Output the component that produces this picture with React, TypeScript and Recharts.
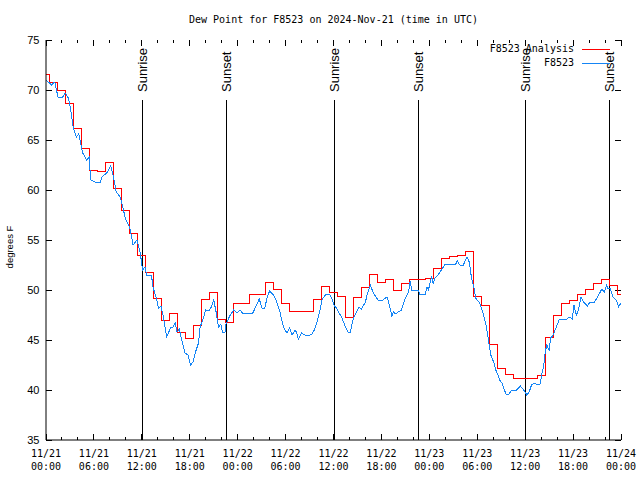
import { LineChart, Line, XAxis, YAxis, ReferenceLine, Legend } from "recharts"

// F8523 Analysis: hourly values, hours 0..72 from 11/21 00:00 UTC
const analysisValues = [
  71.6, 70.8, 70.0, 68.7, 66.2, 64.2, 62.0, 61.9, 62.8, 60.2, 58.0, 55.7,
  53.5, 51.8, 49.2, 47.0, 47.7, 45.8, 45.2, 46.5, 49.1, 49.8, 47.1, 46.8,
  48.7, 48.7, 49.6, 49.6, 50.8, 50.1, 48.7, 47.9, 47.9, 47.9, 49.1, 50.4,
  49.8, 49.4, 47.3, 49.3, 50.3, 51.6, 50.8, 51.1, 50.0, 50.7, 51.1, 51.1,
  51.2, 52.2, 53.2, 53.4, 53.5, 53.9, 49.4, 48.5, 44.6, 42.2, 41.6, 41.2,
  41.2, 41.2, 41.5, 45.3, 47.5, 48.7, 49.0, 49.6, 50.1, 50.7, 51.1, 50.5,
  49.6,
]

// F8523 station readings: [hours since 11/21 00:00, degrees F]
const stationReadings = [
  [0, 71.0], [0.7, 70.5], [1.1, 70.8], [1.5, 69.3], [2.1, 69.3], [2.4, 69.7],
  [2.8, 69.2], [3.1, 68.0], [3.4, 66.3], [3.8, 65.3], [4.1, 65.6], [4.6, 63.7],
  [5.1, 63.0], [5.4, 63.3], [5.6, 61.0], [6.1, 60.8], [6.8, 60.8], [7.0, 61.3],
  [7.6, 61.7], [8.1, 62.4], [8.4, 61.5], [8.8, 59.8], [9.3, 59.3], [9.6, 58.3],
  [10.0, 57.0], [10.5, 56.2], [10.9, 54.5], [11.4, 55.0], [11.8, 53.7], [12.1, 52.0],
  [12.4, 52.3], [12.6, 51.5], [13.2, 51.5], [13.4, 50.3], [13.8, 49.2], [14.1, 48.2],
  [14.4, 48.4], [14.7, 47.3], [15.1, 45.3], [15.6, 46.2], [15.9, 46.3], [16.2, 46.7],
  [16.4, 45.8], [16.7, 46.1], [17.0, 45.0], [17.4, 43.7], [17.8, 43.5], [18.1, 42.5],
  [18.4, 42.8], [18.8, 44.0], [19.1, 44.7], [19.3, 46.3], [19.7, 47.2], [20.0, 48.0],
  [20.4, 47.9], [20.7, 48.3], [21.0, 49.0], [21.3, 47.8], [21.6, 46.3], [21.9, 46.6],
  [22.1, 45.8], [22.4, 45.7], [22.5, 46.5], [23.0, 47.4], [23.5, 48.0], [23.9, 47.7],
  [24.3, 48.0], [24.6, 47.7], [25.9, 47.7], [26.3, 48.4], [26.7, 49.1], [27.1, 48.1],
  [27.4, 48.2], [27.7, 49.3], [28.0, 49.9], [28.5, 49.5], [28.9, 48.8], [29.3, 47.8],
  [29.6, 46.7], [29.9, 46.0], [30.2, 45.7], [30.5, 46.2], [30.8, 45.5], [31.2, 46.0],
  [31.4, 45.7], [31.6, 45.1], [32.0, 45.7], [32.4, 45.5], [32.8, 45.4], [33.3, 45.6],
  [33.6, 46.0], [34.0, 47.0], [34.3, 48.0], [34.6, 49.1], [35.1, 49.6], [35.5, 49.6],
  [35.8, 49.1], [36.1, 48.4], [36.4, 48.2], [36.7, 47.7], [37.0, 47.3], [37.4, 46.5],
  [37.8, 45.8], [38.1, 45.8], [38.3, 46.5], [38.5, 47.2], [38.9, 47.8], [39.2, 48.3],
  [39.5, 48.1], [40.0, 48.8], [40.2, 49.5], [40.6, 50.5], [40.8, 50.1], [41.0, 49.7],
  [41.4, 49.2], [41.6, 49.0], [42.2, 49.0], [42.7, 49.3], [43.0, 48.5], [43.3, 47.4],
  [43.5, 47.8], [43.8, 47.6], [44.1, 47.8], [44.5, 48.0], [45.0, 49.2], [45.4, 49.8],
  [45.6, 50.9], [45.8, 50.0], [46.6, 50.0], [46.8, 49.6], [47.5, 49.6], [47.7, 50.3],
  [47.9, 50.0], [48.1, 50.8], [48.3, 51.3], [48.5, 50.6], [48.7, 51.2], [49.1, 51.5],
  [49.5, 52.0], [50.0, 52.6], [51.3, 52.6], [51.5, 52.9], [51.8, 52.5], [52.2, 52.4],
  [52.7, 53.3], [53.0, 52.8], [53.3, 51.1], [53.6, 50.2], [53.8, 49.2], [54.3, 48.7],
  [54.8, 47.5], [55.1, 46.5], [55.4, 45.0], [55.7, 43.5], [56.1, 42.7], [56.4, 41.8],
  [56.6, 41.5], [56.8, 41.0], [57.1, 40.7], [57.3, 40.2], [57.6, 39.6], [58.0, 39.6],
  [58.3, 40.0], [58.9, 40.0], [59.4, 40.4], [59.6, 40.2], [60.0, 39.8], [60.2, 39.5],
  [60.5, 39.8], [60.8, 40.5], [61.2, 40.7], [61.6, 40.5], [61.9, 40.6], [62.1, 41.7],
  [62.3, 42.3], [62.5, 43.7], [62.7, 44.5], [63.0, 44.0], [63.2, 45.2], [63.5, 45.5],
  [63.9, 46.3], [64.3, 47.1], [65.2, 47.1], [65.6, 47.3], [65.9, 47.1], [66.1, 48.5],
  [66.4, 47.5], [66.6, 47.8], [67.0, 49.3], [67.3, 48.8], [67.8, 48.4], [68.1, 48.8],
  [68.7, 48.8], [69.2, 49.5], [69.6, 50.1], [69.9, 49.8], [70.2, 50.5], [70.4, 50.1],
  [70.6, 50.2], [71.0, 49.3], [71.4, 49.0], [71.7, 48.3], [72.0, 48.7],
]

const seriesNames = ["F8523 Analysis", "F8523"]
const seriesColors = ["#ff0000", "#1585f5"]

const majorTicks = [0, 6, 12, 18, 24, 30, 36, 42, 48, 54, 60, 66, 72]
const minorTicks = [2, 4, 8, 10, 14, 16, 20, 22, 26, 28, 32, 34, 38, 40, 44, 46, 50, 52, 56, 58, 62, 64, 68, 70]
const yTicks = [35, 40, 45, 50, 55, 60, 65, 70, 75]

const sunTimes = [12.05, 22.6, 36.07, 46.6, 60.1, 70.55]
const sunNames = ["Sunrise", "Sunset", "Sunrise", "Sunset", "Sunrise", "Sunset"]

const X_MIN = 0
const X_MAX = 72
const Y_MIN = 35
const Y_MAX = 75
// gnuplot-style inward tick lengths, in axis units (6px major, 3px minor)
const X_TICK = 0.6
const X_MINOR = 0.3
const Y_TICK = 0.75

const analysisData = analysisValues.map((v, i) => ({ h: i, v }))
const stationData = stationReadings.map(([h, v]) => ({ h, v }))

const MONO = "'DejaVu Sans Mono', monospace"
const SANS = "'Liberation Sans', Arial, sans-serif"

function TimeTick({ x, y, payload }: any) {
  const h = payload.value
  const day = 21 + Math.floor(h / 24)
  const hh = String(h % 24).padStart(2, "0")
  return (
    <text x={x} y={y} textAnchor="middle" fontFamily={MONO} fontSize={10} fill="#000">
      <tspan x={x} dy={0}>11/{day}</tspan>
      <tspan x={x} dy={13}>{hh}:00</tspan>
    </text>
  )
}

const sunLabel = (text: string) => (props: any) => {
  const vb = props.viewBox || {}
  const x = vb.x + 4.5
  const y = vb.y - 8
  return (
    <text
      x={x}
      y={y}
      transform={`rotate(-90 ${x} ${y})`}
      fontFamily={SANS}
      fontSize={13}
      fill="#000"
      textAnchor="start"
    >
      {text}
    </text>
  )
}

function LegendBox() {
  return (
    <div style={{ fontFamily: MONO, fontSize: 10, lineHeight: "14px", color: "#000" }}>
      {seriesNames.map((name, i) => (
        <div
          key={name}
          style={{ display: "flex", justifyContent: "flex-end", alignItems: "center", height: 14 }}
        >
          <span>{name}</span>
          <div style={{ width: 28, height: 0, marginLeft: 8, marginRight: 2, borderTop: `1px solid ${seriesColors[i]}` }} />
        </div>
      ))}
    </div>
  )
}

const tickSeg = (key: string, a: { x: number; y: number }, b: { x: number; y: number }) => (
  <ReferenceLine key={key} segment={[a, b]} stroke="#000" strokeWidth={1} shapeRendering="crispEdges" />
)

const axisTicks = [
  ...majorTicks.flatMap((t) => [
    tickSeg(`xb${t}`, { x: t, y: Y_MIN }, { x: t, y: Y_MIN + X_TICK }),
    tickSeg(`xt${t}`, { x: t, y: Y_MAX }, { x: t, y: Y_MAX - X_TICK }),
  ]),
  ...minorTicks.flatMap((t) => [
    tickSeg(`mb${t}`, { x: t, y: Y_MIN }, { x: t, y: Y_MIN + X_MINOR }),
    tickSeg(`mt${t}`, { x: t, y: Y_MAX }, { x: t, y: Y_MAX - X_MINOR }),
  ]),
  ...yTicks.flatMap((v) => [
    tickSeg(`yl${v}`, { x: X_MIN, y: v }, { x: X_MIN + Y_TICK, y: v }),
    tickSeg(`yr${v}`, { x: X_MAX, y: v }, { x: X_MAX - Y_TICK, y: v }),
  ]),
]

export default function App() {
  return (
    <div style={{ position: "absolute", left: 0, top: 0, width: 640, height: 480, background: "#fff" }}>
      <div
        style={{
          position: "absolute",
          left: 46,
          width: 575,
          top: 15,
          textAlign: "center",
          fontFamily: MONO,
          fontSize: 10,
          lineHeight: "10px",
        }}
      >
        Dew Point for F8523 on 2024-Nov-21 (time in UTC)
      </div>
      <LineChart width={640} height={480} margin={{ top: 40, right: 19, bottom: 0, left: 0 }}>
        <XAxis
          dataKey="h"
          type="number"
          domain={[X_MIN, X_MAX]}
          allowDataOverflow
          ticks={majorTicks}
          interval={0}
          height={40}
          tickSize={0}
          tickMargin={17}
          tick={<TimeTick />}
          stroke="#000"
          tickLine={false}
        />
        <XAxis
          xAxisId="topLine"
          orientation="top"
          dataKey="h"
          type="number"
          domain={[X_MIN, X_MAX]}
          allowDataOverflow
          height={0}
          tick={false}
          tickLine={false}
          stroke="#000"
        />
        <YAxis
          type="number"
          domain={[Y_MIN, Y_MAX]}
          ticks={yTicks}
          interval={0}
          width={46}
          tickSize={0}
          tickMargin={6.5}
          stroke="#000"
          tickLine={false}
          tick={{ fill: "#000", fontFamily: SANS, fontSize: 11 }}
          label={() => (
            <text
              x={13}
              y={247}
              transform="rotate(-90 13 247)"
              textAnchor="middle"
              fontFamily={SANS}
              fontSize={9.5}
              fill="#000"
            >
              degrees F
            </text>
          )}
        />
        <YAxis
          yAxisId="rightLine"
          orientation="right"
          mirror
          type="number"
          domain={[Y_MIN, Y_MAX]}
          width={0}
          tick={false}
          tickLine={false}
          stroke="#000"
        />
        {axisTicks}
        {sunTimes.map((t, i) => (
          <ReferenceLine
            key={i}
            segment={[{ x: t, y: Y_MIN }, { x: t, y: 69 }]}
            stroke="#000"
            strokeWidth={1}
            shapeRendering="crispEdges"
            label={sunLabel(sunNames[i])}
          />
        ))}
        <Line
          data={analysisData}
          dataKey="v"
          name={seriesNames[0]}
          type="step"
          stroke={seriesColors[0]}
          strokeWidth={1}
          shapeRendering="crispEdges"
          dot={false}
          isAnimationActive={false}
        />
        <Line
          data={stationData}
          dataKey="v"
          name={seriesNames[1]}
          type="linear"
          stroke={seriesColors[1]}
          strokeWidth={1}
          shapeRendering="crispEdges"
          dot={false}
          isAnimationActive={false}
        />
        <Legend
          layout="vertical"
          align="center"
          verticalAlign="middle"
          content={<LegendBox />}
          wrapperStyle={{ left: 460, top: 42, width: 152 }}
        />
      </LineChart>
    </div>
  )
}
